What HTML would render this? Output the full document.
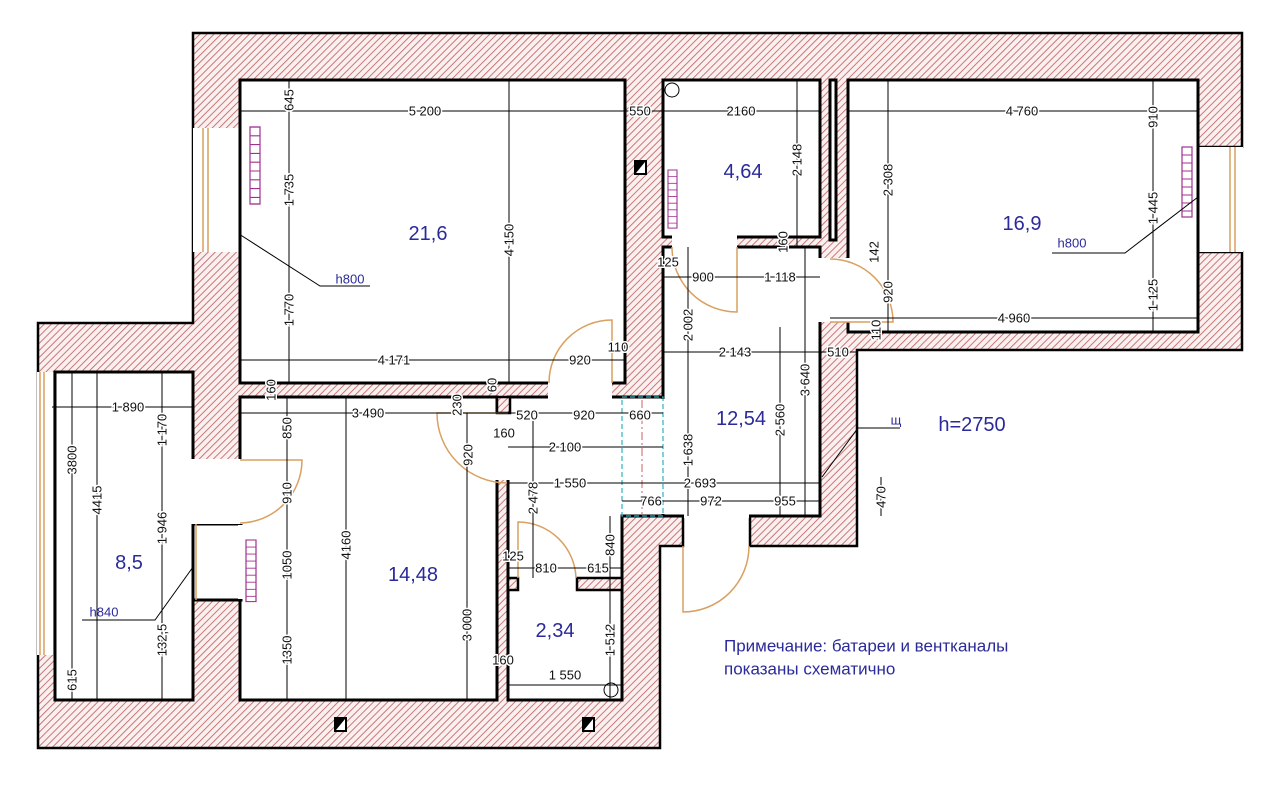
<!DOCTYPE html>
<html><head><meta charset="utf-8"><style>
html,body{margin:0;padding:0;background:#fff;}
svg{display:block}
.d{stroke:#000;stroke-width:1;fill:none}
.t{font-family:"Liberation Sans",sans-serif;font-size:13px;fill:#111;paint-order:stroke;stroke:#fff;stroke-width:3px;text-anchor:middle;dominant-baseline:central}
.a{font-family:"Liberation Sans",sans-serif;font-size:20px;fill:#2a2a9a;text-anchor:middle;dominant-baseline:central}
.h{font-family:"Liberation Sans",sans-serif;font-size:13px;fill:#2a2a9a;text-anchor:middle;dominant-baseline:central}
.r{fill:#fff;stroke:#000;stroke-width:3}
.w{fill:#fff;stroke:none}
.o{stroke:#d9a060;stroke-width:1.5;fill:none}
.hp{fill:url(#hatch);stroke:#000;stroke-width:2.5}
</style></head><body>
<svg width="1280" height="792" viewBox="0 0 1280 792" xmlns="http://www.w3.org/2000/svg">
<defs>
<pattern id="hatch" patternUnits="userSpaceOnUse" width="5" height="5" patternTransform="rotate(45)">
<rect width="5" height="5" fill="#fbf0f0"/>
<line x1="0" y1="0" x2="0" y2="5" stroke="#c46a6a" stroke-width="1.8"/>
</pattern>
<g id="rad"><rect x="0" y="0" width="10" height="70" fill="none" stroke="#a03090" stroke-width="1.2"/>
<path d="M0 8h10M0 16h10M0 24h10M0 32h10M0 40h10M0 48h10M0 56h10M0 64h10" stroke="#a03090" stroke-width="1"/></g>
</defs>
<polygon class="hp" stroke-width="3" points="193,33 1242,33 1242,147 1198,147 1198,252 1242,252 1242,350 857,350 857,546 750,546 750,516 683,516 683,546 660,546 660,748 38,748 38,323 193,323 193,252 193,128"/>
<rect x="193" y="128" width="47" height="124" class="w"/>
<path class="o" d="M203 128V252M208 128V252M240 128V252"/>
<rect x="1198" y="147" width="45" height="105" class="w"/>
<path class="o" d="M1198 147V252M1230 147V252M1235 147V252"/>
<rect x="37" y="372" width="18" height="283" class="w"/>
<path class="o" d="M40 372V655M44 372V655M54 372V655"/>
<rect class="r" x="240" y="80" width="385" height="303"/>
<rect class="r" x="663" y="80" width="157" height="157"/>
<rect class="r" x="830" y="80" width="6" height="160"/>
<rect class="r" x="848" y="80" width="350" height="252"/>
<rect class="r" x="663" y="247" width="157" height="269"/>
<polygon class="r" points="508,397 663,397 663,516 622,516 622,700 508,700"/>
<rect class="r" x="240" y="397" width="257" height="303"/>
<rect class="r" x="55" y="372" width="138" height="328"/>
<rect class="r" x="193" y="524" width="48" height="76"/>
<rect class="w" x="548" y="381" width="64" height="18"/>
<rect class="w" x="672" y="235" width="65" height="14"/>
<rect class="w" x="818" y="258" width="32" height="64"/>
<rect class="w" x="495" y="413" width="15" height="67"/>
<rect class="w" x="191" y="459" width="52" height="65"/>
<rect class="w" x="238" y="525" width="5" height="74"/>
<rect class="w" x="660" y="399" width="6" height="115"/>
<rect class="w" x="684" y="514" width="65" height="4"/>
<rect class="hp" x="577" y="578" width="45" height="12"/>
<rect class="hp" x="508" y="578" width="10" height="12"/>
<rect class="hp" x="497" y="397" width="13" height="16"/>
<path class="o" d="M196 524V600"/>
<rect x="622" y="397" width="41" height="119" fill="none" stroke="#30b0c0" stroke-width="1.2" stroke-dasharray="5,3"/>
<line x1="642" y1="400" x2="642" y2="514" stroke="#d06060" stroke-width="1" stroke-dasharray="8,3,2,3"/>
<path class="o" d="M612 383L612 320A63 63 0 0 0 549 383"/>
<path class="o" d="M737 247L737 312A65 65 0 0 1 672 247"/>
<path class="o" d="M830 322L893 322A63 63 0 0 0 830 259"/>
<path class="o" d="M508 413L437 413A70 70 0 0 0 507 483"/>
<path class="o" d="M240 460L302 460A63 63 0 0 1 240 523"/>
<path class="o" d="M518 578L518 522A58 58 0 0 1 576 578"/>
<path class="o" d="M683 546L683 612A66 66 0 0 0 749 546"/>
<use href="#rad" transform="translate(250,127) scale(1,1.1)"/>
<use href="#rad" transform="translate(668,170) scale(0.9,0.83)"/>
<use href="#rad" transform="translate(1182,147)"/>
<use href="#rad" transform="translate(246,540) scale(1,0.88)"/>
<rect x="634" y="160" width="13" height="15" fill="#000"/><path d="M636 173L645 162L645 173Z" fill="#fff"/>
<rect x="334" y="717" width="13" height="15" fill="#000"/><path d="M336 730L345 719L345 730Z" fill="#fff"/>
<rect x="582" y="717" width="13" height="15" fill="#000"/><path d="M584 730L593 719L593 730Z" fill="#fff"/>
<circle cx="672" cy="90" r="7" fill="#fff" stroke="#000"/>
<circle cx="611" cy="690" r="7" fill="#fff" stroke="#000"/>
<path class="d" d="M240 111H663M663 111H820M848 111H1198M240 360H625M663 277H820M663 352H857M830 318H1198M52 407H193M240 413H663M508 447H663M508 483H820M622 501H820M508 568H622M508 685H622
M289 80V383M509 80V383M797 80V247M888 80V332M1153 80V332M688 247V516M805 247V516M780 327V516M72 372V700M97 372V700M162 372V700M287 397V700M346 397V700M467 413V700M533 413V578M610 516V590M610 590V700M881 477V516
M239 234L320 286H370M1198 197L1125 253H1052M193 567L155 620H82M822 477L858 428H900"/>
<g class="t">
<text x="425" y="111">5 200</text><text x="640" y="111">550</text><text x="741" y="111">2160</text><text x="1022" y="111">4 760</text>
<text x="394" y="360">4 171</text><text x="580" y="360">920</text><text x="618" y="347">110</text>
<text x="668" y="262">125</text><text x="703" y="277">900</text><text x="780" y="277">1 118</text>
<text x="735" y="352">2 143</text><text x="838" y="352">510</text><text x="1014" y="318">4 960</text>
<text x="128" y="407">1 890</text><text x="368" y="413">3 490</text><text x="527" y="415">520</text><text x="584" y="415">920</text><text x="640" y="415">660</text>
<text x="504" y="433">160</text><text x="565" y="447">2 100</text><text x="570" y="483">1 550</text><text x="700" y="483">2 693</text>
<text x="651" y="501">766</text><text x="711" y="501">972</text><text x="785" y="501">955</text>
<text x="513" y="556">125</text><text x="546" y="568">810</text><text x="598" y="568">615</text><text x="503" y="660">160</text><text x="565" y="675">1 550</text>
</g>
<g class="t">
<text transform="translate(289,100) rotate(-90)">645</text><text transform="translate(289,190) rotate(-90)">1 735</text><text transform="translate(289,310) rotate(-90)">1 770</text>
<text transform="translate(509,240) rotate(-90)">4 150</text><text transform="translate(797,160) rotate(-90)">2 148</text><text transform="translate(783,242) rotate(-90)">160</text>
<text transform="translate(888,180) rotate(-90)">2 308</text><text transform="translate(874,252) rotate(-90)">142</text><text transform="translate(888,292) rotate(-90)">920</text><text transform="translate(876,330) rotate(-90)">110</text>
<text transform="translate(1153,117) rotate(-90)">910</text><text transform="translate(1153,208) rotate(-90)">1 445</text><text transform="translate(1153,295) rotate(-90)">1 125</text>
<text transform="translate(688,325) rotate(-90)">2 002</text><text transform="translate(805,380) rotate(-90)">3 640</text><text transform="translate(780,420) rotate(-90)">2 560</text><text transform="translate(688,450) rotate(-90)">1 638</text>
<text transform="translate(271,390) rotate(-90)">160</text><text transform="translate(492,385) rotate(-90)">60</text><text transform="translate(457,405) rotate(-90)">230</text><text transform="translate(468,455) rotate(-90)">920</text>
<text transform="translate(162,430) rotate(-90)">1 170</text><text transform="translate(72,460) rotate(-90)">3800</text><text transform="translate(97,500) rotate(-90)">4415</text><text transform="translate(162,528) rotate(-90)">1 946</text><text transform="translate(162,640) rotate(-90)">132,5</text><text transform="translate(72,680) rotate(-90)">615</text>
<text transform="translate(287,428) rotate(-90)">850</text><text transform="translate(287,493) rotate(-90)">910</text><text transform="translate(287,565) rotate(-90)">1050</text><text transform="translate(287,650) rotate(-90)">1350</text>
<text transform="translate(346,545) rotate(-90)">4160</text><text transform="translate(467,625) rotate(-90)">3 000</text><text transform="translate(533,498) rotate(-90)">2 478</text><text transform="translate(610,545) rotate(-90)">840</text><text transform="translate(610,640) rotate(-90)">1 512</text><text transform="translate(881,497) rotate(-90)">470</text>
</g>
<g class="h"><text x="350" y="279">h800</text><text x="1072" y="243">h800</text><text x="104" y="612">h840</text><text x="896" y="420">щ</text></g>
<g class="a">
<text x="428" y="234">21,6</text><text x="743" y="172">4,64</text><text x="1022" y="224">16,9</text><text x="741" y="419">12,54</text>
<text x="129" y="563">8,5</text><text x="413" y="575">14,48</text><text x="555" y="631">2,34</text><text x="972" y="425">h=2750</text>
</g>
<text x="724" y="646" font-family="Liberation Sans, sans-serif" font-size="17" fill="#2a2a9a" dominant-baseline="central">Примечание: батареи и вентканалы</text>
<text x="724" y="669" font-family="Liberation Sans, sans-serif" font-size="17" fill="#2a2a9a" dominant-baseline="central">показаны схематично</text>
</svg>
</body></html>
